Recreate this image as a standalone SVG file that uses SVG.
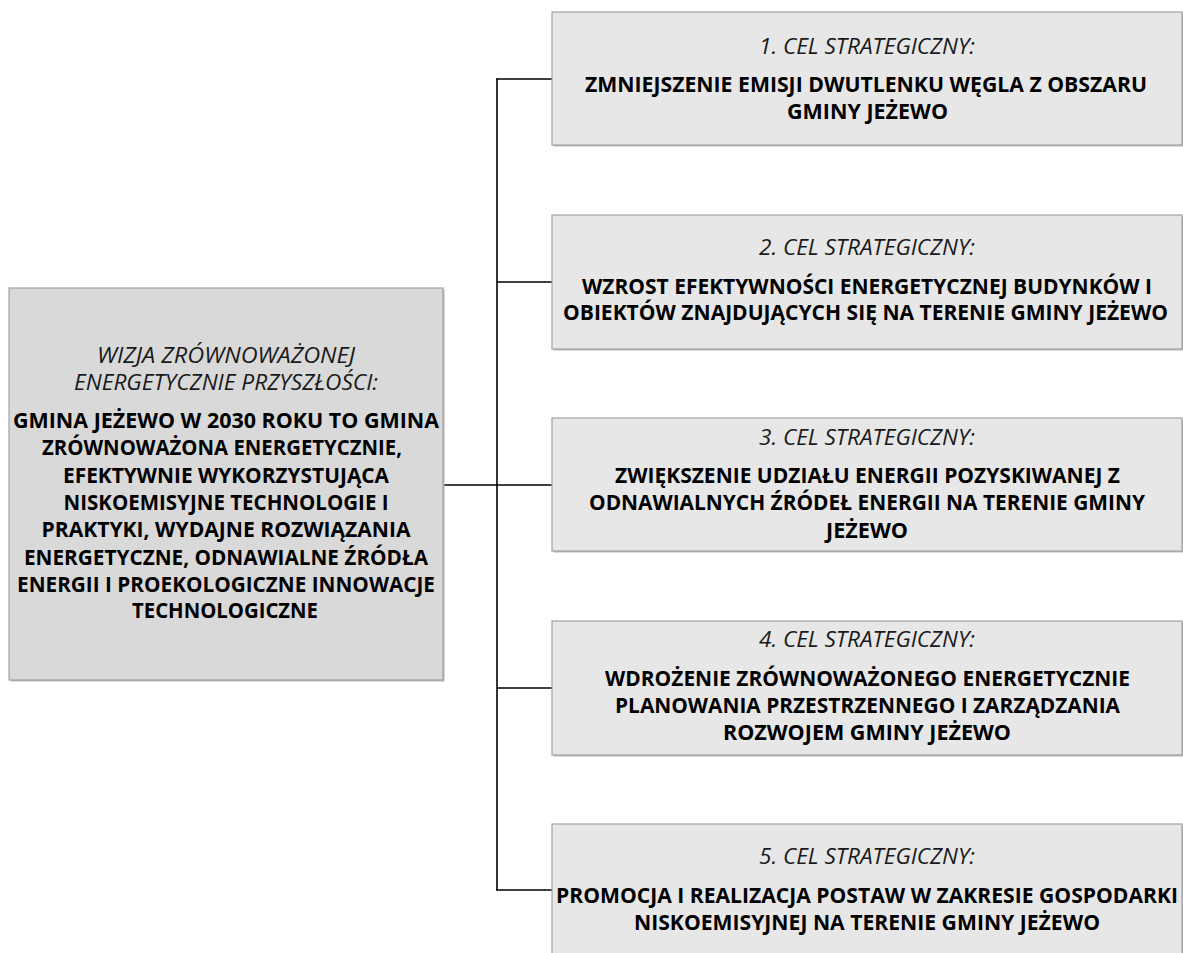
<svg xmlns="http://www.w3.org/2000/svg" width="1183" height="953" viewBox="0 0 1183 953">
<defs>
<style>
.box{fill:#e7e7e7;stroke:#a2a2a2;stroke-width:1.2}
.vis{fill:#d9d9d9;stroke:#a2a2a2;stroke-width:1.2}
.shd{fill:#b8b8b8}
.it{font-family:"Open Sans","Noto Sans","DejaVu Sans",sans-serif;font-style:italic;font-weight:400;font-size:21px;fill:#1a1a1a;text-anchor:middle}
.bd{font-family:"Open Sans","Noto Sans","DejaVu Sans",sans-serif;font-weight:700;font-size:21px;fill:#000;text-anchor:middle}
.ln{stroke:#000;stroke-width:1.6;fill:none}
</style>
</defs>
<rect width="1183" height="953" fill="#fff"/>
<g id="connectors">
<line class="ln" x1="497" y1="78.5" x2="497" y2="890.5"/>
<line class="ln" x1="443" y1="485" x2="497" y2="485"/>
<line class="ln" x1="496.2" y1="79" x2="552" y2="79"/>
<line class="ln" x1="497" y1="282" x2="552" y2="282"/>
<line class="ln" x1="497" y1="485" x2="552" y2="485"/>
<line class="ln" x1="497" y1="688" x2="552" y2="688"/>
<line class="ln" x1="496.2" y1="890" x2="552" y2="890"/>
</g>
<g id="vision">
<rect class="shd" x="10.5" y="289.5" width="434" height="392"/>
<rect class="vis" x="9" y="288" width="434" height="392"/>
<text class="it" x="226" y="363" textLength="258" lengthAdjust="spacingAndGlyphs">WIZJA ZRÓWNOWAŻONEJ</text>
<text class="it" x="226" y="390" textLength="304" lengthAdjust="spacingAndGlyphs">ENERGETYCZNIE PRZYSZŁOŚCI:</text>
<text class="bd" x="226" y="428" textLength="426" lengthAdjust="spacingAndGlyphs">GMINA JEŻEWO W 2030 ROKU TO GMINA</text>
<text class="bd" x="222" y="455" textLength="360" lengthAdjust="spacingAndGlyphs">ZRÓWNOWAŻONA ENERGETYCZNIE,</text>
<text class="bd" x="226" y="483" textLength="326" lengthAdjust="spacingAndGlyphs">EFEKTYWNIE WYKORZYSTUJĄCA</text>
<text class="bd" x="226" y="510" textLength="325" lengthAdjust="spacingAndGlyphs">NISKOEMISYJNE TECHNOLOGIE I</text>
<text class="bd" x="226" y="537" textLength="369" lengthAdjust="spacingAndGlyphs">PRAKTYKI, WYDAJNE ROZWIĄZANIA</text>
<text class="bd" x="226" y="565" textLength="404" lengthAdjust="spacingAndGlyphs">ENERGETYCZNE, ODNAWIALNE ŹRÓDŁA</text>
<text class="bd" x="226" y="592" textLength="418" lengthAdjust="spacingAndGlyphs">ENERGII I PROEKOLOGICZNE INNOWACJE</text>
<text class="bd" x="225" y="618" textLength="186" lengthAdjust="spacingAndGlyphs">TECHNOLOGICZNE</text>
</g>
<g id="goal1">
<rect class="shd" x="553.5" y="13.5" width="630" height="133"/>
<rect class="box" x="552" y="12" width="630" height="133"/>
<text class="it" x="867" y="54" textLength="216" lengthAdjust="spacingAndGlyphs">1. CEL STRATEGICZNY:</text>
<text class="bd" x="866" y="92" textLength="562" lengthAdjust="spacingAndGlyphs">ZMNIEJSZENIE EMISJI DWUTLENKU WĘGLA Z OBSZARU</text>
<text class="bd" x="867.5" y="119" textLength="161" lengthAdjust="spacingAndGlyphs">GMINY JEŻEWO</text>
</g>
<g id="goal2">
<rect class="shd" x="553.5" y="216.5" width="630" height="134"/>
<rect class="box" x="552" y="215" width="630" height="134"/>
<text class="it" x="867" y="255" textLength="216" lengthAdjust="spacingAndGlyphs">2. CEL STRATEGICZNY:</text>
<text class="bd" x="867" y="294" textLength="570" lengthAdjust="spacingAndGlyphs">WZROST EFEKTYWNOŚCI ENERGETYCZNEJ BUDYNKÓW I</text>
<text class="bd" x="865.5" y="320" textLength="605" lengthAdjust="spacingAndGlyphs">OBIEKTÓW ZNAJDUJĄCYCH SIĘ NA TERENIE GMINY JEŻEWO</text>
</g>
<g id="goal3">
<rect class="shd" x="553.5" y="419.5" width="630" height="133"/>
<rect class="box" x="552" y="418" width="630" height="133"/>
<text class="it" x="867" y="445" textLength="216" lengthAdjust="spacingAndGlyphs">3. CEL STRATEGICZNY:</text>
<text class="bd" x="867.5" y="483" textLength="505" lengthAdjust="spacingAndGlyphs">ZWIĘKSZENIE UDZIAŁU ENERGII POZYSKIWANEJ Z</text>
<text class="bd" x="867" y="510" textLength="556" lengthAdjust="spacingAndGlyphs">ODNAWIALNYCH ŹRÓDEŁ ENERGII NA TERENIE GMINY</text>
<text class="bd" x="867" y="538" textLength="82" lengthAdjust="spacingAndGlyphs">JEŻEWO</text>
</g>
<g id="goal4">
<rect class="shd" x="553.5" y="622.5" width="630" height="134"/>
<rect class="box" x="552" y="621" width="630" height="134"/>
<text class="it" x="867" y="647" textLength="216" lengthAdjust="spacingAndGlyphs">4. CEL STRATEGICZNY:</text>
<text class="bd" x="867.5" y="686" textLength="525" lengthAdjust="spacingAndGlyphs">WDROŻENIE ZRÓWNOWAŻONEGO ENERGETYCZNIE</text>
<text class="bd" x="867.5" y="713" textLength="505" lengthAdjust="spacingAndGlyphs">PLANOWANIA PRZESTRZENNEGO I ZARZĄDZANIA</text>
<text class="bd" x="867" y="740" textLength="288" lengthAdjust="spacingAndGlyphs">ROZWOJEM GMINY JEŻEWO</text>
</g>
<g id="goal5">
<rect class="shd" x="553.5" y="825.5" width="630" height="134"/>
<rect class="box" x="552" y="824" width="630" height="134"/>
<text class="it" x="867" y="864" textLength="216" lengthAdjust="spacingAndGlyphs">5. CEL STRATEGICZNY:</text>
<text class="bd" x="867" y="903" textLength="622" lengthAdjust="spacingAndGlyphs">PROMOCJA I REALIZACJA POSTAW W ZAKRESIE GOSPODARKI</text>
<text class="bd" x="867" y="930" textLength="466" lengthAdjust="spacingAndGlyphs">NISKOEMISYJNEJ NA TERENIE GMINY JEŻEWO</text>
</g>
</svg>
